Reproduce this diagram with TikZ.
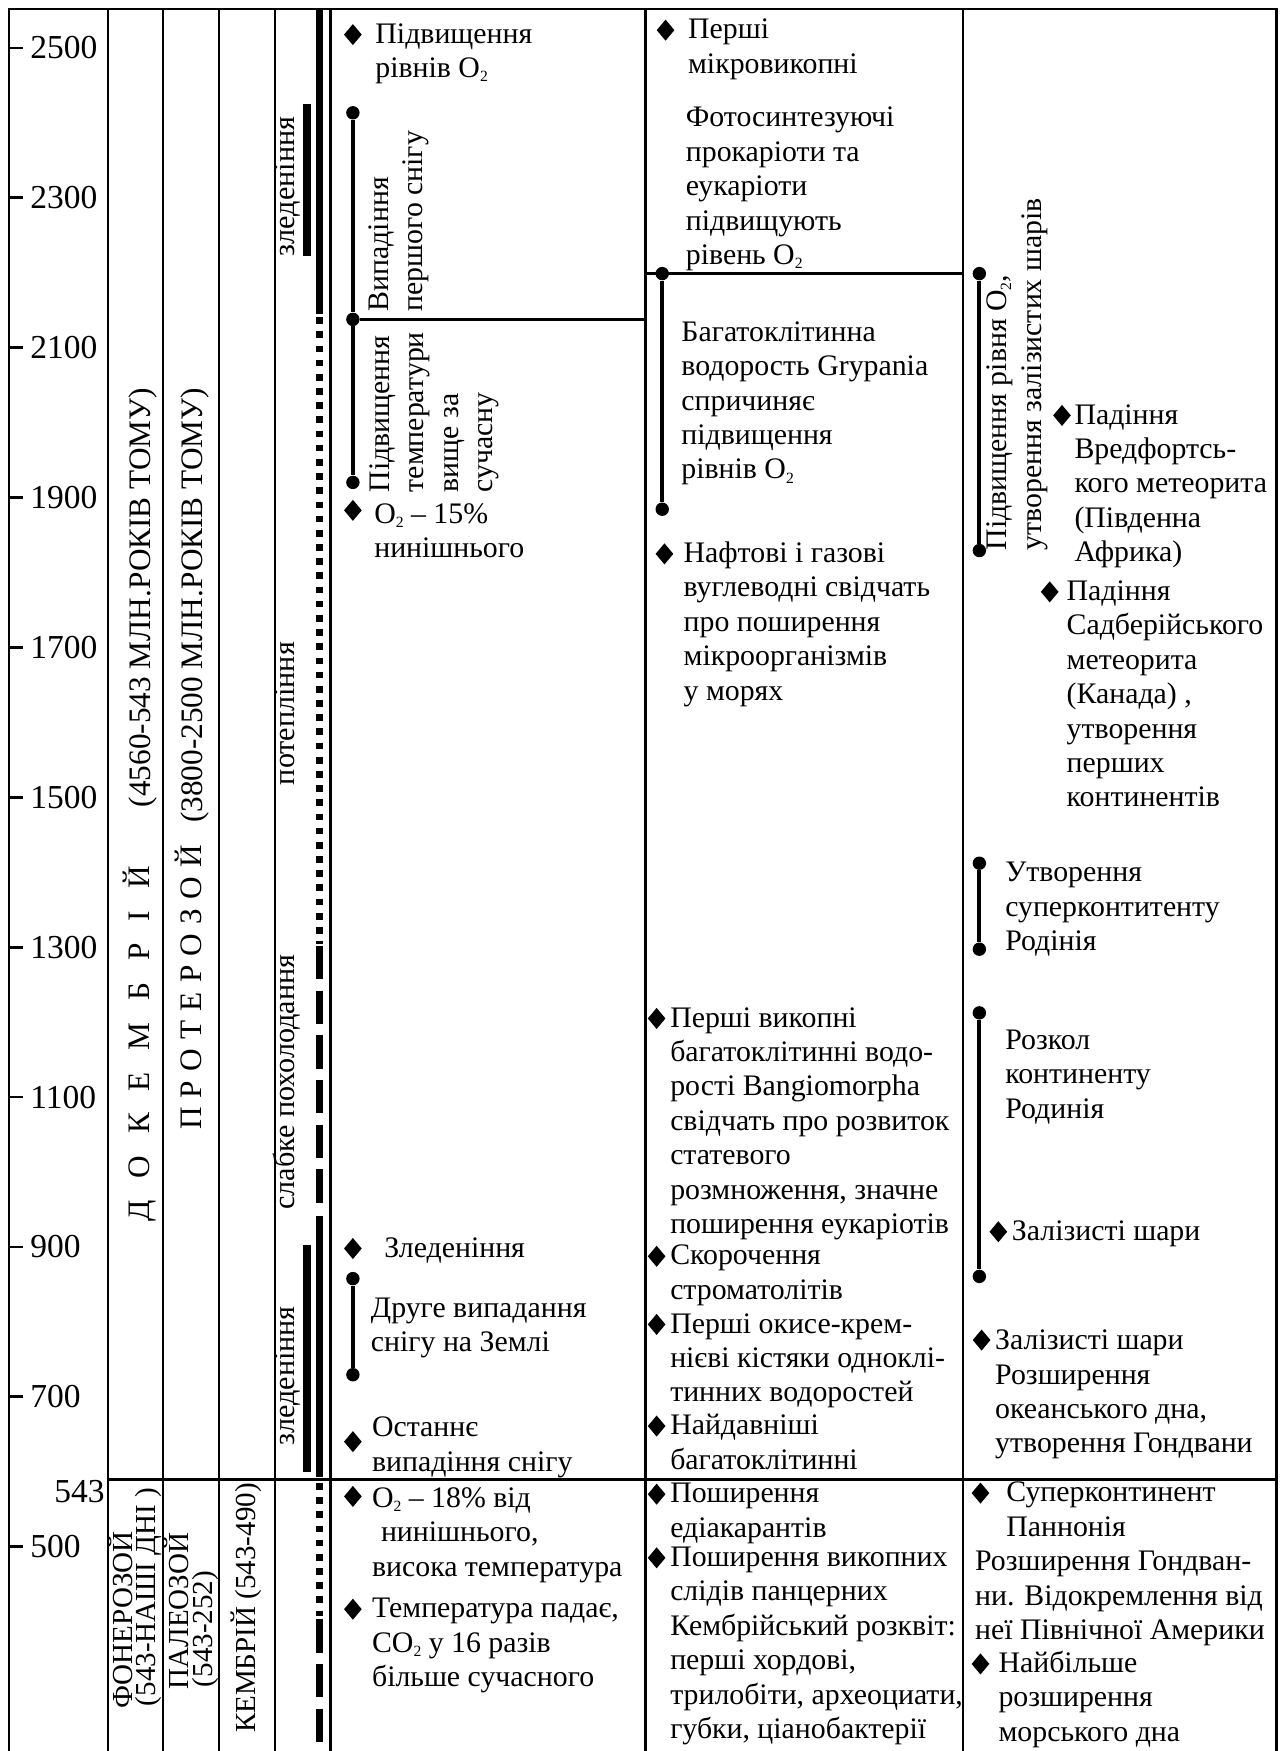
\documentclass[tikz,border=0pt]{standalone}
\usepackage{fontspec}
\setmainfont{Liberation Serif}
\usetikzlibrary{shapes.geometric}
\newcommand{\zstrut}{\rule{0pt}{26pt}}
\newcommand{\Ot}{O\raisebox{-0.3ex}{\fontsize{14}{14}\selectfont 2}}
\begin{document}
\lineskiplimit=-30pt
\begin{tikzpicture}[x=1pt,y=-1pt,
  bf/.style={font=\fontsize{26.7}{30.8}\selectfont},
  tb/.style={bf, anchor=north west, yshift=18.5pt, align=left, inner sep=0pt},
  rb/.style={bf, anchor=north west, xshift=-18.5pt, rotate=90, align=left, inner sep=0pt},
  rt/.style={font=\fontsize{27}{30}\selectfont, rotate=90, inner sep=0pt},
  ttl/.style={font=\fontsize{28}{30}\selectfont, rotate=90, inner sep=0pt},
  sml/.style={font=\fontsize{26}{28}\selectfont, rotate=90, inner sep=0pt},
  num/.style={font=\fontsize{30}{32}\selectfont, inner sep=0pt},
  dia/.style={diamond, fill=black, inner sep=0pt, minimum width=16pt, minimum height=19pt},
  dot/.style={circle, fill=black, inner sep=0pt, minimum size=12pt},
  conn/.style={line width=3.5pt},
  hl/.style={line width=2.5pt},
  frame/.style={line width=2.5pt},
  cl/.style={line width=2pt},
  bar/.style={line width=6.5pt, line cap=butt},
  dotbar/.style={bar, dash pattern=on 6pt off 6.7pt},
  dashbar/.style={bar, dash pattern=on 30pt off 10pt}
]
\fill[white] (0,0) rectangle (1149,1568);
\useasboundingbox (0,0) rectangle (1149,1568);

% frame and columns
\draw[frame] (8,1568) -- (8,8) -- (1143,8) -- (1143,1568);
\foreach \xx in {97,146,196,246,296,578,862} {\draw[cl] (\xx,8) -- (\xx,1568);}
\draw[hl] (97,1325) -- (1143,1325);

% time scale
\foreach \v in {2500,2300,2100,1900,1700,1500,1300,1100,900,700,500} {
  \pgfmathsetmacro\yy{43+(2500-\v)*0.671}
  \draw[line width=2.5pt] (8,\yy) -- (21,\yy);
  \node[num, anchor=west] (t\v) at (27,\yy) {\v};
}
\node[num, anchor=north east] (t543) at (94,1325) {543};

% era titles (base anchors: glyph centre = baseline - 9.3)
\node[ttl, anchor=base west] (dok) at (133.5,1094) {Д\hspace{19.6pt}О\hspace{19.6pt}К\hspace{19.6pt}Е\hspace{19.6pt}М\hspace{19.6pt}Б\hspace{19.6pt}Р\hspace{19.6pt}І\hspace{19.6pt}Й};
\node[ttl, anchor=base east] (dokp) at (134.5,347) {(4560-543 МЛН.РОКІВ ТОМУ)};
\node[ttl, anchor=base west] (pro) at (180.5,1012) {П\hspace{8.3pt}Р\hspace{8.3pt}О\hspace{8.3pt}Т\hspace{8.3pt}Е\hspace{8.3pt}Р\hspace{8.3pt}О\hspace{8.3pt}З\hspace{8.3pt}О\hspace{8.3pt}Й};
\node[ttl, anchor=base east] (prop) at (181.5,347) {(3800-2500 МЛН.РОКІВ ТОМУ)};

\node[sml, anchor=base west] (fon1) at (118.5,1530) {ФОНЕРОЗОЙ};
\node[sml, anchor=base west] (fon2) at (139.5,1528) {(543-НАШІ ДНІ )};
\node[sml, anchor=base west] (pal1) at (168.5,1513) {ПАЛЕОЗОЙ};
\node[sml, anchor=base west] (pal2) at (190.5,1511) {(543-252)};
\node[sml, anchor=base east] (kem) at (228.5,1328) {КЕМБРІЙ (543-490)};

% climate column
\node[rt, anchor=mid] (cl1) at (261,167) {зледеніння};
\node[rt, anchor=mid] (cl2) at (261,639) {потепління};
\node[rt, anchor=mid] (cl3) at (261,969) {слабке похолодання};
\node[rt, anchor=mid] (cl4) at (261,1232) {зледеніння};
\draw[bar] (275,93) -- (275,229);
\draw[bar] (275,1115) -- (275,1318);
\draw[bar] (286,8) -- (286,281);
\draw[dotbar] (286,284) -- (286,845);
\draw[dashbar] (286,847) -- (286,1086);
\draw[bar] (286,1089) -- (286,1323);
\draw[dotbar] (286,1328) -- (286,1447);
\draw[dashbar] (286,1450) -- (286,1568);

% column 4
\node[dia] (a1) at (316,31) {};
\node[tb] (a1t) at (336,31) {\zstrut Підвищення\\рівнів \Ot};
\node[dot] (p1) at (316,101) {};
\node[dot] (p2) at (316,286) {};
\node[dot] (p3) at (316,432) {};
\draw[conn] (p1) -- (p2);
\draw[conn] (p2) -- (p3);
\coordinate (c4r) at (578,286);
\draw[hl] (p2) -- (c4r);
\node[rb] (a2t) at (340,279) {\zstrut Випадіння\\першого снігу};
\node[rb] (a3t) at (341,441) {\zstrut Підвищення\\температури\\вище за\\сучасну};
\node[dia] (a4) at (316,457) {};
\node[tb] (a4t) at (335,461) {\zstrut \Ot\ -- 15\%\\нинішнього};
\node[dia] (a5) at (316,1118) {};
\node[tb] (a5t) at (344,1118) {\zstrut Зледеніння};
\node[dot] (p4) at (316,1145) {};
\node[dot] (p5) at (316,1231) {};
\draw[conn] (p4) -- (p5);
\node[tb] (a6t) at (332,1172) {\zstrut Друге випадання\\снігу на Землі};
\node[dia] (a7) at (316,1291) {};
\node[tb] (a7t) at (333,1279) {\zstrut Останнє\\випадіння снігу};
\node[dia] (a8) at (316,1340) {};
\node[tb] (a8t) at (333,1342) {\zstrut \Ot\ -- 18\% від\\\hspace{8pt}нинішнього,\\висока температура};
\node[dia] (a9) at (316,1441) {};
\node[tb] (a9t) at (333,1441) {\zstrut Температура падає,\\CO\raisebox{-0.3ex}{\fontsize{14}{14}\selectfont 2} у 16 разів\\більше сучасного};

% column 5
\node[dia] (b1) at (596,27) {};
\node[tb] (b1t) at (616,27) {\zstrut Перші\\мікровикопні};
\node[tb] (b2t) at (614,106) {\zstrut Фотосинтезуючі\\прокаріоти та\\еукаріоти\\підвищують\\рівень \Ot};
\coordinate (c5l) at (578,245);
\coordinate (c5r) at (862,245);
\draw[hl] (c5l) -- (c5r);
\node[dot] (q1) at (593,245) {};
\node[dot] (q2) at (593,456) {};
\draw[conn] (q1) -- (q2);
\node[tb] (b3t) at (610,298) {\zstrut Багатоклітинна\\водорость Grypania\\спричиняє\\підвищення\\рівнів \Ot};
\node[dia] (b4) at (595,496) {};
\node[tb] (b4t) at (612,496) {\zstrut Нафтові і газові\\вуглеводні свідчать\\про поширення\\мікроорганізмів\\у морях};
\node[dia] (b5) at (588,912) {};
\node[tb] (b5t) at (600,912) {\zstrut Перші викопні\\багатоклітинні водо-\\рості Bangiomorpha\\свідчать про розвиток\\статевого\\розмноження, значне\\поширення еукаріотів};
\node[dia] (b6) at (588,1125) {};
\node[tb] (b6t) at (600,1125) {\zstrut Скорочення\\строматолітів};
\node[dia] (b7) at (588,1186) {};
\node[tb] (b7t) at (600,1186) {\zstrut Перші окисе-крем-\\нієві кістяки одноклі-\\тинних водоростей};
\node[dia] (b8) at (588,1277) {};
\node[tb] (b8t) at (600,1277) {\zstrut Найдавніші\\багатоклітинні};
\node[dia] (b9) at (588,1338) {};
\node[tb] (b9t) at (600,1338) {\zstrut Поширення\\едіакарантів};
\node[dia] (b10) at (588,1395) {};
\node[tb] (b10t) at (600,1395) {\zstrut Поширення викопних\\слідів панцерних\\Кембрійський розквіт:\\перші хордові,\\трилобіти, археоциати,\\губки, ціанобактерії};

% column 6
\node[dot] (r1) at (877,245) {};
\node[dot] (r2) at (877,493) {};
\draw[conn] (r1) -- (r2);
\node[rb] (c1t) at (894,493) {\zstrut Підвищення рівня \Ot,\\утворення залізистих шарів};
\node[dia] (c2) at (951,372) {};
\node[tb] (c2t) at (962,372) {\zstrut Падіння\\Вредфортсь-\\кого метеорита\\(Південна\\Африка)};
\node[dia] (c3) at (940,530) {};
\node[tb] (c3t) at (955,530) {\zstrut Падіння\\Садберійського\\метеорита\\(Канада) ,\\утворення\\перших\\континентів};
\node[dot] (r3) at (877,773) {};
\node[dot] (r4) at (877,850) {};
\draw[conn] (r3) -- (r4);
\node[tb] (c4t) at (900,782) {\zstrut Утворення\\суперконтитенту\\Родінія};
\node[dot] (r5) at (877,907) {};
\node[dot] (r6) at (877,1143) {};
\draw[conn] (r5) -- (r6);
\node[tb] (c5t) at (900,932) {\zstrut Розкол\\континенту\\Родинія};
\node[dia] (c6) at (894,1103) {};
\node[tb] (c6t) at (906,1103) {\zstrut Залізисті шари};
\node[dia] (c7) at (879,1200) {};
\node[tb] (c7t) at (891,1201) {\zstrut Залізисті шари\\Розширення\\океанського дна,\\утворення Гондвани};
\node[dia] (c8) at (878,1337) {};
\node[tb] (c8t) at (901,1337) {\zstrut Суперконтинент\\Паннонія};
\node[tb] (c9t) at (873,1399) {\zstrut Розширення Гондван-\\ни. Відокремлення від\\неї Північної Америки};
\node[dia] (c10) at (878,1490) {};
\node[tb] (c10t) at (894,1490) {\zstrut Найбільше\\розширення\\морського дна};
\end{tikzpicture}
\end{document}
